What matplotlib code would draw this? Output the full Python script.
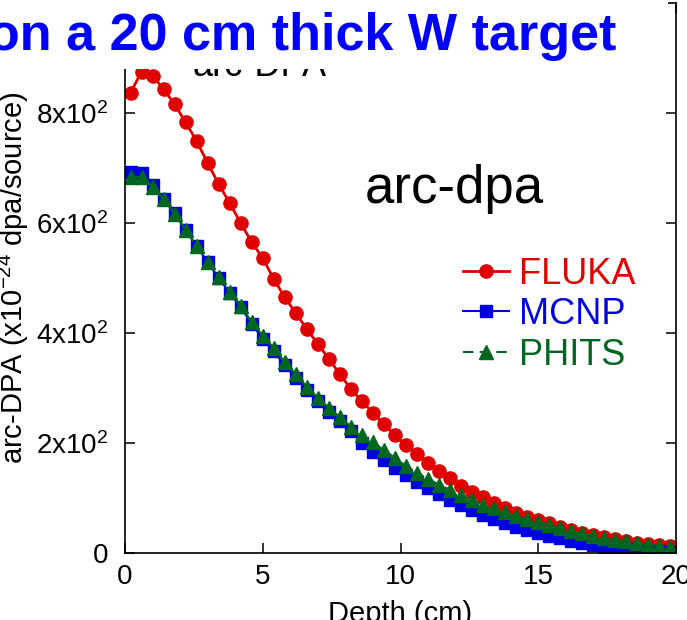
import matplotlib
matplotlib.use("Agg")
import matplotlib.pyplot as plt
from matplotlib.patches import Rectangle

plt.rcParams['font.family'] = ['Liberation Sans', 'DejaVu Sans']
plt.rcParams['mathtext.fontset'] = 'custom'
plt.rcParams['mathtext.rm'] = 'Liberation Sans'
plt.rcParams['mathtext.default'] = 'regular'

depth = [0.2 + 0.4 * i for i in range(50)]

fluka = [837, 875, 868, 843, 816, 783, 749, 709, 671, 636,
         600, 565, 536, 498, 465, 436, 407, 380, 353, 325,
         298, 276, 255, 234, 214, 196, 180, 163, 149, 136,
         122, 111, 101, 91, 82, 73, 66, 60, 54, 47,
         42, 37, 33, 29, 25, 22, 19, 16, 14, 12]

mcnp = [693, 691, 669, 644, 618, 587, 558, 529, 500, 473,
        447, 416, 390, 367, 341, 318, 296, 276, 257, 240,
        221, 200, 184, 169, 155, 142, 129, 118, 107, 96,
        87, 78, 69, 62, 55, 48, 42, 36, 31, 27,
        22, 18, 14, 11, 9, 7, 5, 4, 3, 2]

phits = [684, 684, 666, 643, 617, 587, 558, 529, 501, 475,
         449, 420, 395, 373, 347, 325, 302, 282, 264, 247,
         230, 214, 201, 187, 173, 158, 145, 135, 124, 115,
         105, 96, 88, 81, 74, 67, 62, 56, 51, 45,
         40, 36, 31, 27, 24, 21, 18, 15, 13, 11]

yticks = [0, 200, 400, 600, 800]
ytick_labels = ['0', '2x10$^2$', '4x10$^2$', '6x10$^2$', '8x10$^2$']
xticks = [0, 5, 10, 15, 20]

red = '#e00000'
blue = '#0000e0'
green = '#006620'

fig = plt.figure(figsize=(6.87, 6.2), dpi=100)
ax = fig.add_axes([125 / 687, 1 - 553 / 620, 551 / 687, 550 / 620])

ax.plot(depth, fluka, '-o', color=red, lw=2, ms=9.5, label='FLUKA')
ax.plot(depth, mcnp, '-s', color=blue, lw=1.5, ms=8.5, label='MCNP')
ax.plot(depth, phits, '^', color=green, ls=(0, (5, 3)), lw=1.5, ms=9.5,
        label='PHITS')

ax.set_xlim(0, 20)
ax.set_ylim(0, 1000)
ax.set_xticks(xticks)
ax.set_yticks(yticks)
ax.set_yticklabels(ytick_labels)
ax.tick_params(direction='in', length=7, width=1.1, labelsize=20,
               right=True, top=True)
ax.tick_params(axis='y', pad=12)
ax.tick_params(axis='x', pad=8)
for s in ax.spines.values():
    s.set_linewidth(1.2)

ax.set_xlabel('Depth (cm)', fontsize=21)
ax.xaxis.set_label_coords(0.5, -0.085)
ax.set_ylabel(r'arc-DPA (x10$^{-24}$ dpa/source)', fontsize=21)
ax.yaxis.set_label_coords(-0.17, 0.5)

ax.text(0.435, 0.636, 'arc-dpa', fontsize=38, ha='left', va='baseline',
        transform=ax.transAxes)

leg = ax.legend(loc='upper left', bbox_to_anchor=(0.588, 0.565), frameon=False,
                fontsize=26, handlelength=1.25, handletextpad=0.3,
                labelspacing=0.15, borderaxespad=0)
for t, c in zip(leg.get_texts(), [red, blue, green]):
    t.set_color(c)

fig.text(260 / 687, 1 - 76 / 620, 'arc-DPA', fontsize=26, ha='center',
         va='baseline', zorder=1)

fig.patches.append(Rectangle((0, 1 - 69 / 620), 668 / 687, 69 / 620,
                             transform=fig.transFigure, facecolor='white',
                             edgecolor='none', zorder=5))
fig.text(-12 / 687, 1 - 50 / 620, 'on a 20 cm thick W target', fontsize=37.5,
         fontweight='bold', color='#0000ff', ha='left', va='baseline', zorder=6)

fig.savefig('out.png', dpi=100)
